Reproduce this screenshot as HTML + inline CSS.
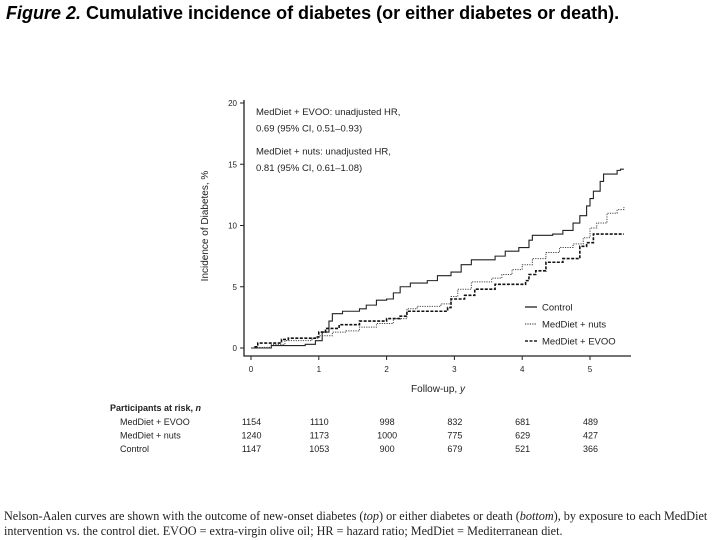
<!DOCTYPE html>
<html><head><meta charset="utf-8"><style>
body{margin:0;width:720px;height:540px;background:#fff;overflow:hidden;font-family:"Liberation Sans",sans-serif;}
#title{position:absolute;left:6px;top:3px;font-size:18px;font-weight:bold;color:#000;white-space:nowrap}
#foot{position:absolute;left:4px;top:509px;font-family:"Liberation Serif",serif;font-size:12.2px;line-height:15px;color:#222;white-space:nowrap}
svg{position:absolute;left:0;top:0}
svg text{font-family:"Liberation Sans",sans-serif;fill:#222}
</style></head><body>
<div id="title"><i>Figure 2.</i> Cumulative incidence of diabetes (or either diabetes or death).</div>
<svg id="chart" width="720" height="540"></svg>
<div id="foot">Nelson-Aalen curves are shown with the outcome of new-onset diabetes (<i>top</i>) or either diabetes or death (<i>bottom</i>), by exposure to each MedDiet<br>intervention vs. the control diet. EVOO = extra-virgin olive oil; HR = hazard ratio; MedDiet = Mediterranean diet.</div>
<script>
const xTicks=[0,1,2,3,4,5];
const yTicks=[0,5,10,15,20];
const controlT=[0,0.05,0.3,0.8,0.95,1.05,1.15,1.2,1.35,1.6,1.7,1.85,2.0,2.1,2.2,2.35,2.6,2.75,2.95,3.1,3.25,3.6,3.75,3.95,4.1,4.15,4.45,4.6,4.75,4.85,4.95,5.0,5.05,5.15,5.2,5.4,5.45,5.5];
const controlV=[0,0,0.2,0.3,0.6,1.3,2.2,2.8,3.0,3.2,3.5,3.9,4.0,4.5,5.0,5.3,5.5,5.9,6.2,6.8,7.2,7.5,7.9,8.2,8.8,9.2,9.3,9.6,10.2,10.8,11.6,12.2,12.8,13.6,14.2,14.5,14.6,14.6];
const nutsT=[0.05,0.3,0.5,0.9,1.0,1.2,1.4,1.6,1.85,2.1,2.3,2.45,2.8,2.95,3.05,3.25,3.55,3.7,3.85,4.0,4.15,4.35,4.55,4.75,4.9,5.0,5.1,5.25,5.4,5.5];
const nutsV=[0.05,0.3,0.6,0.8,1.0,1.3,1.4,1.7,2.0,2.4,3.2,3.4,3.6,4.2,4.8,5.4,5.7,6.0,6.4,6.8,7.3,7.8,8.2,8.5,9.0,9.8,10.2,11.0,11.3,11.5];
const evooT=[0.05,0.1,0.45,0.55,0.95,1.0,1.1,1.3,1.6,2.0,2.2,2.3,2.9,2.95,3.15,3.3,3.6,4.05,4.1,4.2,4.35,4.6,4.85,4.95,5.05,5.5];
const evooV=[0.1,0.4,0.7,0.8,0.9,1.3,1.6,1.9,2.2,2.4,2.6,3.0,3.3,4.0,4.3,4.8,5.2,5.5,6.0,6.3,7.0,7.3,8.3,8.6,9.3,9.3];
const riskRows=["MedDiet + EVOO","MedDiet + nuts","Control"];
const riskEvoo=[1154,1110,998,832,681,489];
const riskNuts=[1240,1173,1000,775,629,427];
const riskControl=[1147,1053,900,679,521,366];

const X=t=>251+t*67.8, Y=v=>348-v*12.25;
const svg=document.getElementById('chart'), NS='http://www.w3.org/2000/svg';
function el(tag,attrs,txt){const e=document.createElementNS(NS,tag);for(const k in attrs)e.setAttribute(k,attrs[k]);if(txt!==undefined)e.textContent=txt;svg.appendChild(e);return e;}
let a=el('path',{d:'M244,100 V356 H631',fill:'none',stroke:'#222','stroke-width':1.3});


xTicks.forEach(t=>{
 let l=el('line',{x1:X(t),x2:X(t),y1:356,y2:360,stroke:'#222'});
 
 
 let s=el('text',{x:X(t),y:372,'font-size':8,'text-anchor':'middle'},t);
 
 
});
yTicks.forEach(v=>{
 let l=el('line',{x1:240,x2:244,y1:Y(v),y2:Y(v),stroke:'#222'});
 
 
 let s=el('text',{x:237,y:Y(v)+3,'font-size':8,'text-anchor':'end'},v);
 
 
});
let xt=el('text',{x:438,y:392,'font-size':10,'text-anchor':'middle'},'Follow-up, ');


let yi=el('tspan',{'font-style':'italic'},'y');xt.appendChild(yi);
let yt=el('text',{x:0,y:0,'font-size':10,'text-anchor':'middle',transform:'translate(208,226) rotate(-90)'},'Incidence of Diabetes, %');


['MedDiet + EVOO: unadjusted HR,','0.69 (95% CI, 0.51–0.93)','MedDiet + nuts: unadjusted HR,','0.81 (95% CI, 0.61–1.08)'].forEach((s,i)=>{
 let t=el('text',{x:256,y:115+i*16.3+(i>1?7:0),'font-size':9.5},s);
 
 
});
function step(T,V){let d='M'+X(T[0])+','+Y(V[0]);for(let i=1;i<T.length;i++){d+=' H'+X(T[i])+' V'+Y(V[i]);}return d;}
let p1=el('path',{d:step(controlT,controlV),fill:'none',stroke:'#222','stroke-width':1.1});


let p2=el('path',{d:step(nutsT,nutsV),fill:'none',stroke:'#444','stroke-width':1,'stroke-dasharray':'1.2,1.2'});


let p3=el('path',{d:step(evooT,evooV),fill:'none',stroke:'#111','stroke-width':1.6,'stroke-dasharray':'3,1.5'});


[['Control','none',1.3],['MedDiet + nuts','1.2,1.2',1],['MedDiet + EVOO','3,1.5',1.6]].forEach((L,i)=>{
 let y=307+i*17;
 let l=el('line',{x1:525,x2:537,y1:y,y2:y,stroke:'#222','stroke-width':L[2],'stroke-dasharray':L[1]});
 
 
 let t=el('text',{x:542,y:y+3.5,'font-size':9.5},L[0]);
 
 
});
let rh=el('text',{x:110,y:411,'font-size':9,'font-weight':'bold'},'Participants at risk, ');


rh.appendChild(el('tspan',{'font-style':'italic'},'n'));
[riskEvoo,riskNuts,riskControl].forEach((row,r)=>{
 let y=425+r*13.5;
 let t=el('text',{x:120,y:y,'font-size':9},riskRows[r]);
 
 
 row.forEach((n,i)=>{
  let c=el('text',{x:X(i)+0.5,y:y,'font-size':9,'text-anchor':'middle'},n);
  
  
 });
});
</script>
</body></html>
